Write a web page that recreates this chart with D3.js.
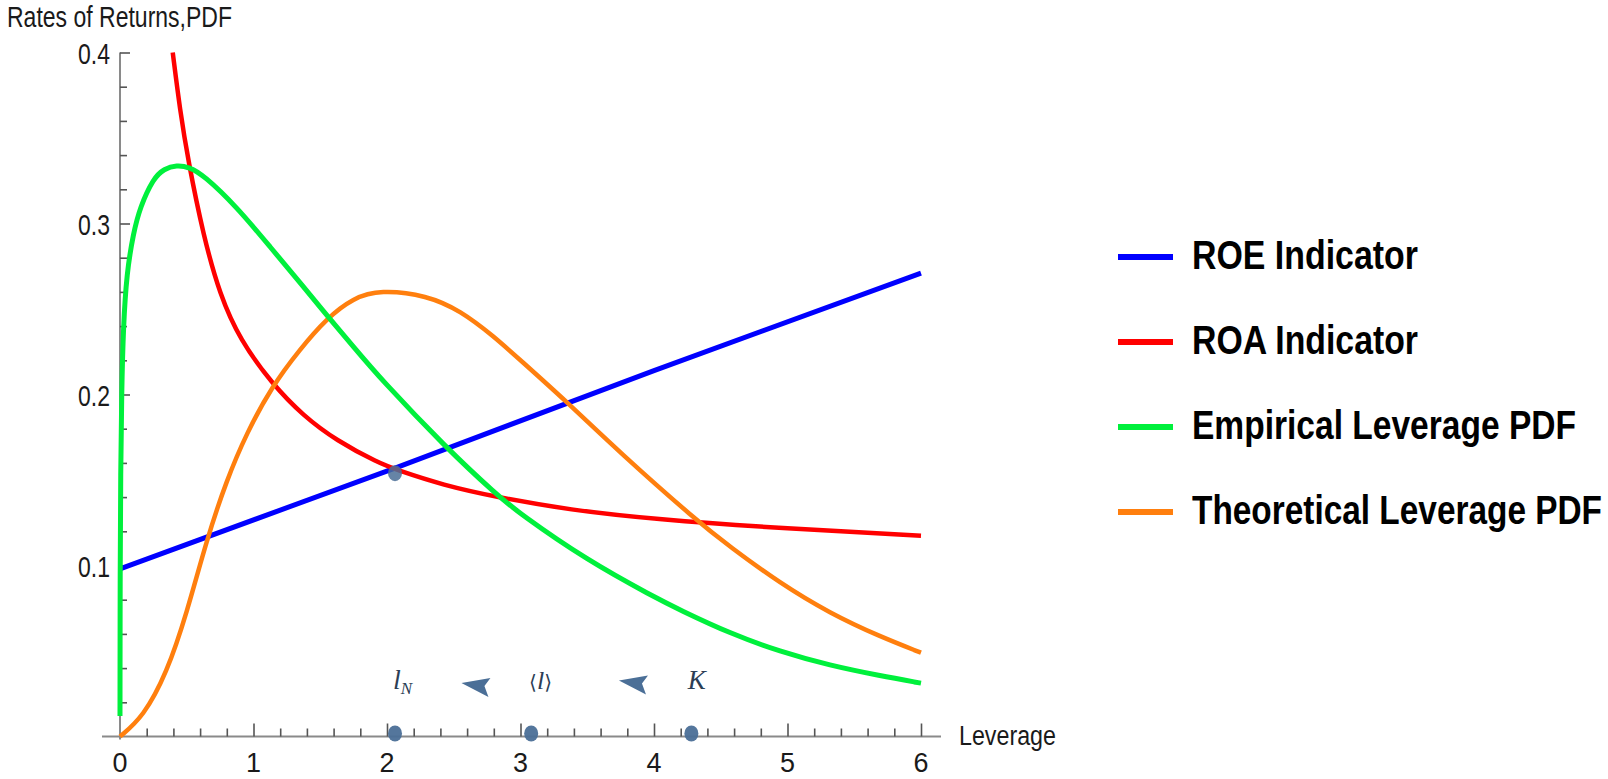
<!DOCTYPE html>
<html>
<head>
<meta charset="utf-8">
<script src="https://cdn.jsdelivr.net/npm/d3@7"></script>
<style>
  html, body { margin: 0; padding: 0; background: #fff; }
  svg { display: block; }
</style>
</head>
<body>
<svg id="chart" width="1608" height="779"></svg>
<script>
// ---------------- data ----------------
const xTickLabels = ["0", "1", "2", "3", "4", "5", "6"];
const xTickValues = [0, 1, 2, 3, 4, 5, 6];
const yTickLabels = ["0.1", "0.2", "0.3", "0.4"];
const yTickValues = [0.1, 0.2, 0.3, 0.4];

const seriesNames = ["ROE Indicator", "ROA Indicator", "Empirical Leverage PDF", "Theoretical Leverage PDF"];
const seriesColors = ["#0000ff", "#ff0000", "#00f03c", "#ff7f0e"];

const roePoints = [[0, 0.098], [2.06, 0.157], [4, 0.214], [6, 0.271]];

const roaPoints = [[0.395, 0.400], [0.45, 0.366], [0.51, 0.337], [0.624, 0.293], [0.749, 0.258],
  [0.899, 0.232], [1.136, 0.2065], [1.373, 0.1875], [1.623, 0.1730], [1.935, 0.1600], [2.07, 0.1560],
  [2.42, 0.147], [2.82, 0.140], [3.37, 0.1325], [4.0, 0.127], [5.0, 0.1215], [6.0, 0.1174]];

const empiricalPoints = [[0, 0.012], [0.001, 0.10], [0.005, 0.154], [0.012, 0.2007], [0.025, 0.240],
  [0.05, 0.2709], [0.10, 0.2943], [0.15, 0.3095], [0.25, 0.3265], [0.33, 0.3320], [0.424, 0.3342],
  [0.52, 0.3330], [0.624, 0.3284], [0.874, 0.3098], [1.124, 0.2864], [1.373, 0.2631], [1.548, 0.2465],
  [1.748, 0.2280], [1.948, 0.2095], [2.447, 0.1685], [2.82, 0.1415], [3.0, 0.130], [3.496, 0.1032],
  [3.995, 0.0818], [4.195, 0.0740], [4.569, 0.0603], [4.944, 0.0496], [5.318, 0.0415],
  [5.693, 0.0355], [6.0, 0.0312]];

const theoreticalPoints = [[0, 0], [0.175, 0.0116], [0.35, 0.037], [0.50, 0.072], [0.649, 0.115],
  [0.799, 0.150], [0.949, 0.1775], [1.136, 0.2045], [1.348, 0.2265], [1.548, 0.2445], [1.748, 0.2565],
  [1.948, 0.2612], [2.30, 0.2580], [2.55, 0.2490], [2.80, 0.2340], [3.0, 0.2200], [3.35, 0.1955],
  [3.745, 0.1660], [4.32, 0.1262], [4.569, 0.1110], [4.944, 0.0896], [5.318, 0.0720],
  [5.693, 0.0584], [6.0, 0.0490]];

const axisDots = [2.06, 3.08, 4.28];
const intersectionDot = [2.06, 0.154];
const arrowPositions = [[2.67, 0.0295], [3.85, 0.031]];
const markerLabelX = [2.06, 3.15, 4.32];
const markerLabelY = 0.028;

// ---------------- drawing ----------------
const svg = d3.select("#chart");
const x = d3.scaleLinear().domain([0, 6]).range([120, 921]);
const y = d3.scaleLinear().domain([0, 0.4]).range([736.5, 52.5]);

const FONT = "'Liberation Sans', Arial, sans-serif";

function addText(parent, tx, ty, str, size, anchor, width, weight, fill) {
  const t = parent.append("text")
    .attr("x", tx).attr("y", ty)
    .attr("font-family", FONT)
    .attr("font-size", size)
    .attr("font-weight", weight || "normal")
    .attr("fill", fill || "#1a1a1a")
    .attr("text-anchor", anchor || "start")
    .text(str);
  if (width) t.attr("textLength", width).attr("lengthAdjust", "spacingAndGlyphs");
  return t;
}

// axes: lines
svg.append("line").attr("x1", 102).attr("x2", 941).attr("y1", y(0)).attr("y2", y(0))
  .attr("stroke", "#8a8a8a").attr("stroke-width", 2);
svg.append("line").attr("x1", x(0)).attr("x2", x(0)).attr("y1", y(0.4)).attr("y2", y(0) + 3)
  .attr("stroke", "#8a8a8a").attr("stroke-width", 2);

// x ticks
const xMinor = d3.range(1, 30).map(i => i * 0.2).filter(v => Math.abs(v - Math.round(v)) > 1e-6);
const xAxisMinor = d3.axisBottom(x).tickValues(xMinor).tickSizeInner(-8).tickSizeOuter(0).tickFormat("");
const xAxisMajor = d3.axisBottom(x).tickValues([1, 2, 3, 4, 5, 6]).tickSizeInner(-13).tickSizeOuter(0).tickFormat("");
[xAxisMinor, xAxisMajor].forEach(ax => {
  const g = svg.append("g").attr("transform", `translate(0,${y(0)})`).call(ax);
  g.select(".domain").remove();
  g.selectAll(".tick line").attr("stroke", "#555").attr("stroke-width", 1.6);
});

// y ticks
const yMinor = d3.range(1, 21).map(i => i * 0.02).filter(v => Math.abs(v * 10 - Math.round(v * 10)) > 1e-6);
const yAxisMinor = d3.axisLeft(y).tickValues(yMinor).tickSizeInner(-7).tickSizeOuter(0).tickFormat("");
const yAxisMajor = d3.axisLeft(y).tickValues(yTickValues).tickSizeInner(-10).tickSizeOuter(0).tickFormat("");
[yAxisMinor, yAxisMajor].forEach(ax => {
  const g = svg.append("g").attr("transform", `translate(${x(0)},0)`).call(ax);
  g.select(".domain").remove();
  g.selectAll(".tick line").attr("stroke", "#555").attr("stroke-width", 1.6);
});

// tick labels
xTickValues.forEach((v, i) => {
  addText(svg, x(v), 772, xTickLabels[i], 27, "middle", 15);
});
yTickValues.forEach((v, i) => {
  addText(svg, 110, y(v) + 11, yTickLabels[i], 30, "end", 32);
});

// axis titles
addText(svg, 7, 27, "Rates of Returns,PDF", 30, "start", 225);
addText(svg, 959, 745, "Leverage", 27, "start", 97);

// curves
const smooth = d3.line().x(d => x(d[0])).y(d => y(d[1])).curve(d3.curveBasis);
const straight = d3.line().x(d => x(d[0])).y(d => y(d[1]));
const plot = svg.append("g").attr("fill", "none").attr("stroke-linejoin", "round").attr("stroke-linecap", "butt");
plot.append("path").attr("d", straight(roePoints)).attr("stroke", seriesColors[0]).attr("stroke-width", 5);
plot.append("path").attr("d", smooth(roaPoints)).attr("stroke", seriesColors[1]).attr("stroke-width", 4.5);
plot.append("path").attr("d", smooth(theoreticalPoints)).attr("stroke", seriesColors[3]).attr("stroke-width", 4.5);
plot.append("path").attr("d", smooth(empiricalPoints)).attr("stroke", seriesColors[2]).attr("stroke-width", 5);

// markers
const markColor = "#4b6f97";
axisDots.forEach(v => {
  svg.append("ellipse").attr("cx", x(v)).attr("cy", y(0) - 3).attr("rx", 7).attr("ry", 8)
    .attr("fill", markColor).attr("opacity", 0.95);
});
svg.append("ellipse").attr("cx", x(intersectionDot[0])).attr("cy", y(intersectionDot[1]))
  .attr("rx", 7).attr("ry", 8).attr("fill", markColor).attr("opacity", 0.85);

arrowPositions.forEach(p => {
  const cx = x(p[0]), cy = y(p[1]);
  svg.append("path")
    .attr("d", `M${cx - 15},${cy - 3} L${cx + 14},${cy - 8} L${cx + 8},${cy} L${cx + 12},${cy + 11} Z`)
    .attr("fill", markColor);
});

// marker labels (italic serif)
const SERIF = "'Liberation Serif', 'Times New Roman', serif";
const lab = svg.append("g").attr("fill", "#2c3e55").attr("font-family", SERIF).attr("font-style", "italic");
const t1 = lab.append("text").attr("x", x(markerLabelX[0]) - 2).attr("y", y(markerLabelY))
  .attr("font-size", 28);
t1.append("tspan").text("l");
t1.append("tspan").attr("font-size", 17).attr("dy", 5).text("N");
const t2 = lab.append("text").attr("x", x(markerLabelX[1])).attr("y", y(markerLabelY))
  .attr("font-size", 26).attr("text-anchor", "middle");
t2.append("tspan").attr("font-style", "normal").attr("font-family", "'DejaVu Sans', sans-serif").attr("font-size", 20).text("\u27E8");
t2.append("tspan").text("l");
t2.append("tspan").attr("font-style", "normal").attr("font-family", "'DejaVu Sans', sans-serif").attr("font-size", 20).text("\u27E9");
lab.append("text").attr("x", x(markerLabelX[2])).attr("y", y(markerLabelY))
  .attr("font-size", 27).attr("text-anchor", "middle").text("K");

// legend (bold text, condensed: smaller font stretched vertically)
const legendY0 = 257, legendStep = 85;
const legendWidths = [226, 226, 384, 410];
seriesNames.forEach((name, i) => {
  const ly = legendY0 + i * legendStep;
  svg.append("line").attr("x1", 1118).attr("x2", 1173).attr("y1", ly).attr("y2", ly)
    .attr("stroke", seriesColors[i]).attr("stroke-width", 6);
  const g = svg.append("g").attr("transform", `translate(1192,${ly + 12}) scale(1,1.19)`);
  addText(g, 0, 0, name, 33.6, "start", legendWidths[i], "bold", "#000");
});
</script>
</body>
</html>
